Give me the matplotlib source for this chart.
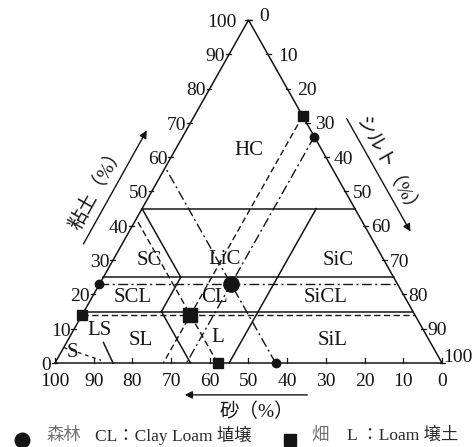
import matplotlib
matplotlib.use("Agg")
import matplotlib.pyplot as plt

# ---------------- data ----------------
sand_ticks = [100, 90, 80, 70, 60, 50, 40, 30, 20, 10, 0]
clay_ticks = [0, 10, 20, 30, 40, 50, 60, 70, 80, 90, 100]
silt_ticks = [0, 10, 20, 30, 40, 50, 60, 70, 80, 90, 100]

# texture classes: label, clay %, silt % (label anchor)
class_names = ["HC", "SC", "LiC", "SiC", "SCL", "CL", "SiCL", "LS", "SL", "L", "SiL", "S"]
class_clay = [62, 30, 30.3, 30, 19.2, 19, 19.2, 9.6, 6.7, 7.3, 6.7, 3.2]
class_silt = [19, 9.5, 28.6, 58.1, 10.6, 31.8, 60.4, 6.6, 18.9, 38.3, 68.5, 2.8]

# class boundaries as (clay, silt) pairs
boundaries = [
    [(0, 0), (100, 0), (0, 100), (0, 0)],
    [(45, 0), (45, 55)],
    [(25, 0), (25, 75)],
    [(15, 0), (15, 85)],
    [(0, 45), (45, 45)],
    [(25, 20), (45, 0)],
    [(15, 20), (25, 20)],
    [(0, 35), (15, 20)],
    [(0, 15), (6, 9.5)],
]
sand_boundary_dashed = [(4.5, 0), (0.8, 11.5)]

# samples
sample_names = ["森林", "畑"]
sample_clay = [23, 14]
sample_silt = [34, 28]
sample_marker = ["o", "s"]
sample_ls = [(0, (7, 2.5, 1.5, 2.5)), (0, (4.5, 2.5))]
sample_big = [11, 9.5]
sample_small = [6, 7.5]

legend_desc = ["CL：Clay Loam 埴壌", "L ：Loam 壌土"]


def tern(c, s):
    return s + c / 2.0, c


INK = "#151515"
SERIF = ["Liberation Serif", "Noto Sans CJK JP"]

fig = plt.figure(figsize=(4.75, 4.47), dpi=100)
ax = fig.add_axes([0, 0, 1, 1])
ax.set_xlim(-14.21, 108.53)
ax.set_ylim(-24.49, 105.83)
ax.axis("off")

# boundaries
for seg in boundaries:
    xs, ys = zip(*[tern(c, s) for c, s in seg])
    ax.plot(xs, ys, color=INK, lw=1.1, solid_joinstyle="miter")
xs, ys = zip(*[tern(c, s) for c, s in sand_boundary_dashed])
ax.plot(xs, ys, color=INK, lw=0.9, ls=(0, (3, 3)))

# ticks and tick labels
for v in sand_ticks:
    x, y = tern(0, 100 - v)
    ax.plot([x, x], [0, 1.4], color=INK, lw=0.9)
    ax.text(x, -6.7, str(v), ha="center", va="baseline", fontsize=14,
            family=SERIF, color=INK)
for v in clay_ticks:
    x, y = tern(v, 0)
    ax.plot([x - 0.8, x + 0.4], [y, y], color=INK, lw=0.9)
    dx = -3.0 if v == 100 else -1.0
    ax.text(x + dx, y - 2.0, str(v), ha="right", va="baseline", fontsize=14,
            family=SERIF, color=INK)
for v in silt_ticks:
    x, y = tern(100 - v, v)
    ax.plot([x - 0.4, x + 0.8], [y, y], color=INK, lw=0.9)
    dx_px = 1.0 if v == 100 else 11.0 - 7.0 * v / 100.0
    dx = dx_px / 3.87
    dy = -1.9
    if v == 0:
        dy = -0.4
    elif v == 100:
        dy = 0.2
    ax.text(x + dx, y + dy, str(v), ha="left", va="baseline", fontsize=14,
            family=SERIF, color=INK)

# class labels
for name, c, s in zip(class_names, class_clay, class_silt):
    x, y = tern(c, s)
    ax.text(x, y, name, ha="center", va="center", fontsize=15,
            family=SERIF, color=INK)

# sample projection lines and markers
for c, s, m, ls, big, small in zip(sample_clay, sample_silt, sample_marker,
                                   sample_ls, sample_big, sample_small):
    segs = [[(c, 0), (c, 100 - c)],
            [(100 - s, s), (0, s)],
            [(0, c + s), (c + s, 0)]]
    for seg in segs:
        xs, ys = zip(*[tern(cc, ss) for cc, ss in seg])
        ax.plot(xs, ys, color=INK, lw=1.0, ls=ls)
    for cc, ss in [(c, 0), (100 - s, s), (0, c + s)]:
        x, y = tern(cc, ss)
        ax.plot(x, y, marker=m, ms=small, color=INK, zorder=5, clip_on=False)
    x, y = tern(c, s)
    ax.plot(x, y, marker=m, ms=big, color=INK, zorder=6)

# axis titles with arrows
t0 = tern(34, -10.0)
t1 = tern(68.5, -10.2)
ax.annotate("", xy=t1, xytext=t0,
            arrowprops=dict(arrowstyle="-|>", color=INK, lw=1.0, mutation_scale=11))
ax.text(10.9, 51.3, "粘土（%）", rotation=60.5, rotation_mode="anchor",
        ha="center", va="center", fontsize=14, family=SERIF, color=INK)

r0 = tern(72, 111 - 72)
r1 = tern(37.6, 111 - 37.6)
ax.annotate("", xy=r1, xytext=r0,
            arrowprops=dict(arrowstyle="-|>", color=INK, lw=1.0, mutation_scale=11))
ax.text(86.0, 56.8, "シルト（%）", rotation=-60.5, rotation_mode="anchor",
        ha="center", va="center", fontsize=14, family=SERIF, color=INK)

ax.annotate("", xy=(32.8, -9.3), xytext=(65.9, -9.3),
            arrowprops=dict(arrowstyle="-|>", color=INK, lw=1.0, mutation_scale=11))
ax.text(52.2, -14.3, "砂（%）", ha="center", va="center", fontsize=14,
        family=SERIF, color=INK)

# legend row
leg_x_marker = [-8.5, 60.7]
leg_x_name = [-2.1, 66.2]
leg_x_desc = [10.3, 75.5]
for i in range(2):
    ax.plot(leg_x_marker[i], -22.4, marker=sample_marker[i],
            ms=10.5 if sample_marker[i] == "o" else 9, color=INK, clip_on=False)
    ax.text(leg_x_name[i], -21.2, sample_names[i], ha="left", va="center",
            fontsize=12.5, family=SERIF, color="#707070")
    ax.text(leg_x_desc[i], -21.2, legend_desc[i], ha="left", va="center",
            fontsize=12.5, family=SERIF, color="#2a2a2a")

fig.savefig("out.png", dpi=100, facecolor="white")
